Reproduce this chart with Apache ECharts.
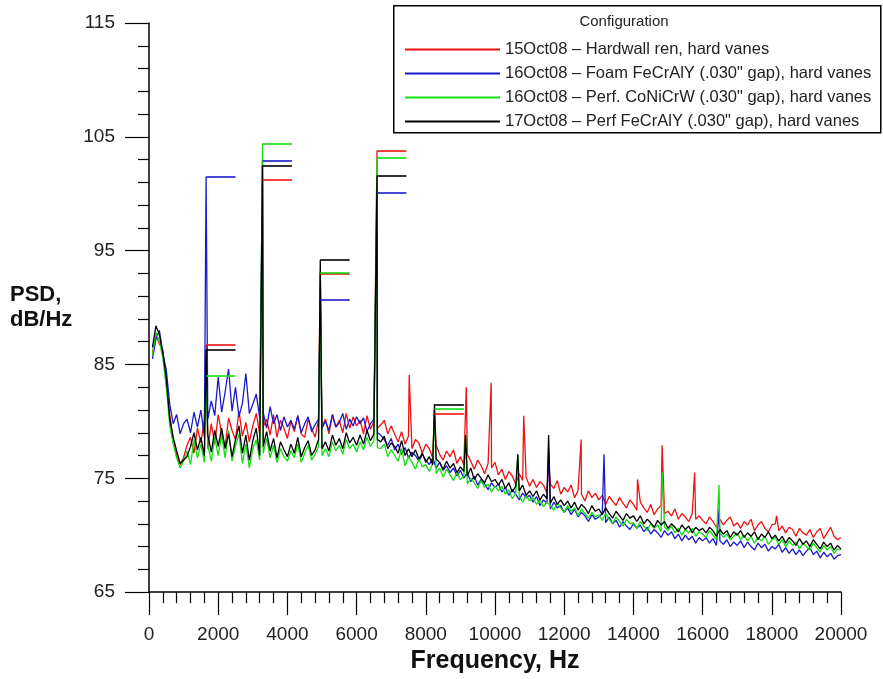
<!DOCTYPE html>
<html>
<head>
<meta charset="utf-8">
<script src="https://cdn.jsdelivr.net/npm/echarts@6/dist/echarts.min.js"></script>
<style>
  html, body { margin: 0; padding: 0; background: #fff; }
  #chart { width: 883px; height: 679px; }
</style>
</head>
<body>
<div id="chart"></div>
<script>
// ---- data (PSD, dB/Hz) ----
const seriesNames = [
  '15Oct08 \u2013 Hardwall ren, hard vanes',
  '16Oct08 \u2013 Foam FeCrAlY (.030" gap), hard vanes',
  '16Oct08 \u2013 Perf. CoNiCrW (.030" gap), hard vanes',
  '17Oct08 \u2013 Perf FeCrAlY (.030" gap), hard vanes'
];
const seriesColors = ['#ee1111', '#1a1acc', '#11dd11', '#000000'];

// frequency grid of the broadband samples (Hz)
const freqStart = 100;
const freqStep = 100;

const redBase = [
  86.0, 87.6, 86.8, 86.3, 83.2, 80.6, 78.4, 77.0, 76.2, 76.8,
  77.9, 78.6, 77.2, 79.4, 78.1, 80.2, 77.6, 79.8, 78.0, 80.6,
  78.9, 77.8, 80.3, 79.2, 78.4, 80.9, 78.7, 79.9, 78.2, 79.6,
  80.7, 78.9, 79.5, 80.2, 78.8, 80.6, 78.6, 80.1, 79.4, 78.5,
  80.0, 79.1, 80.5, 78.9, 78.6, 80.2, 79.4, 78.6, 80.1, 79.5,
  80.2, 78.9, 80.6, 79.5, 80.1, 79.0, 80.7, 79.4, 80.4, 79.6,
  80.1, 78.9, 80.5, 79.3, 80.0, 79.4, 79.7, 80.1, 78.9, 79.6,
  78.9, 78.2, 79.1, 78.0, 78.7, 77.6, 78.4, 78.1, 77.2, 78.0,
  77.6, 76.8, 77.9, 77.1, 76.6, 77.4, 76.9, 77.5, 76.3, 76.9,
  76.2, 77.1, 76.5, 75.8, 76.6, 76.1, 75.4, 76.3, 75.9, 76.4,
  75.3, 75.8, 74.9, 75.6, 75.2, 74.5, 75.4, 74.8, 75.1, 74.3,
  74.9, 74.2, 74.7, 74.4, 73.7, 74.5, 74.1, 74.8, 73.6, 74.2,
  73.8, 74.4, 73.3, 73.9, 73.6, 73.0, 73.9, 73.3, 73.7, 73.1,
  73.5, 72.7, 73.4, 73.0, 72.6, 73.3, 72.8, 72.4, 73.1, 72.7,
  72.2, 72.9, 72.4, 72.0, 72.7, 71.8, 72.3, 72.6, 71.9, 72.1,
  71.7, 72.3, 71.4, 71.9, 71.6, 71.2, 71.9, 71.4, 71.7, 71.3,
  71.0, 71.6, 71.2, 70.7, 71.4, 70.9, 71.3, 71.6, 70.8, 71.1,
  70.6, 71.2, 70.9, 71.4, 70.4, 70.9, 71.2, 70.6, 70.3, 70.9,
  71.0, 70.4, 70.8, 70.2, 70.7, 70.5, 69.9, 70.6, 70.2, 70.0,
  70.5, 69.8, 70.3, 70.6, 69.7, 70.2, 70.7, 69.9, 69.6, 69.8
];
const blueBase = [
  85.5, 87.2, 88.0, 86.0, 84.5, 81.5, 79.8, 80.6, 78.9, 79.8,
  80.2, 79.0, 80.8, 79.5, 81.0, 78.6, 80.2, 81.8, 80.5, 83.9,
  80.8, 82.6, 84.6, 80.9, 83.0, 80.4, 81.6, 84.2, 80.7, 81.5,
  82.4, 80.3, 80.8, 79.4, 81.3, 79.8, 80.6, 79.2, 80.4, 79.5,
  80.1, 79.3, 80.5, 79.0, 79.8, 80.4, 79.1, 79.7, 80.2, 79.4,
  80.0, 79.2, 80.6, 79.5, 79.9, 80.7, 79.3, 80.2, 79.6, 80.4,
  79.8, 80.3, 79.1, 79.8, 80.2, 79.0, 78.8, 78.4, 77.9, 78.5,
  77.5, 78.0, 77.1, 77.7, 76.8, 77.3, 77.0, 76.5, 77.1, 76.6,
  76.2, 76.8, 75.9, 76.4, 75.7, 76.1, 75.5, 75.9, 75.2, 75.7,
  75.0, 75.5, 74.7, 75.2, 74.4, 74.9, 74.5, 74.0, 74.6, 74.2,
  74.5, 73.8, 74.2, 73.5, 74.0, 73.6, 73.1, 73.7, 73.3, 73.5,
  72.9, 73.4, 72.6, 73.1, 72.8, 72.3, 72.9, 72.4, 72.6, 72.0,
  72.4, 71.8, 72.3, 71.6, 72.0, 71.7, 71.2, 71.8, 71.4, 71.6,
  71.9, 71.1, 71.6, 71.0, 71.3, 70.7, 71.2, 70.8, 70.5, 71.0,
  70.6, 70.9, 70.3, 70.7, 70.1, 70.5, 70.2, 69.8, 70.4, 70.0,
  70.3, 69.7, 70.1, 69.5, 70.0, 69.6, 69.9, 69.3, 69.8, 69.5,
  69.8, 69.3, 69.7, 69.1, 69.5, 69.2, 69.6, 69.0, 69.4, 69.1,
  69.5, 68.9, 69.4, 69.0, 68.7, 69.3, 68.9, 69.2, 68.6, 69.0,
  68.8, 69.2, 68.5, 68.9, 68.4, 68.8, 68.3, 68.7, 68.2, 68.6,
  68.9, 68.3, 68.6, 68.0, 68.5, 68.1, 68.4, 67.9, 68.2, 68.3
];
const greenBase = [
  85.8, 87.8, 87.0, 85.6, 83.0, 79.6, 78.0, 76.8, 75.9, 76.5,
  77.4, 76.2, 78.4, 76.8, 78.0, 76.4, 77.9, 76.5, 78.6, 77.0,
  78.8, 76.8, 79.2, 76.5, 77.8, 78.9, 76.3, 78.0, 75.9, 77.6,
  78.4, 76.6, 77.2, 78.5, 76.8, 77.9, 76.4, 77.6, 76.9, 76.5,
  77.4, 76.8, 78.0, 76.4, 77.2, 77.9, 76.6, 77.1, 77.8, 77.0,
  77.6, 76.9, 78.2, 77.4, 77.9, 77.1, 78.4, 77.6, 78.0, 77.3,
  78.2, 77.5, 78.6, 77.8, 78.3, 77.7, 77.6, 78.0, 76.9, 77.5,
  77.0, 76.5, 77.6, 76.1, 76.9, 76.4, 75.8, 76.7, 76.0, 76.2,
  75.6, 76.3, 75.4, 75.9, 75.1, 75.8, 75.3, 74.8, 75.5, 74.9,
  75.2, 74.5, 75.0, 74.6, 74.1, 74.8, 74.2, 74.5, 73.8, 74.3,
  73.9, 74.3, 73.6, 74.0, 73.2, 73.7, 73.4, 72.9, 73.5, 73.0,
  73.3, 72.7, 73.1, 72.5, 72.9, 72.6, 72.2, 72.8, 72.4, 72.0,
  72.6, 72.1, 72.4, 71.7, 72.3, 71.9, 71.5, 72.0, 71.6, 71.8,
  71.3, 71.9, 71.4, 71.0, 71.6, 71.2, 70.8, 71.4, 71.0, 71.1,
  70.6, 71.2, 70.8, 70.4, 71.0, 70.6, 70.9, 70.3, 70.7, 70.4,
  70.8, 70.2, 70.6, 70.0, 70.5, 70.2, 70.6, 69.9, 70.3, 70.1,
  69.8, 70.4, 70.0, 69.6, 70.2, 69.8, 70.1, 69.6, 69.9, 70.2,
  69.6, 70.0, 69.5, 69.9, 69.3, 69.8, 69.5, 69.9, 69.2, 69.6,
  69.8, 69.2, 69.6, 69.0, 69.5, 69.1, 69.4, 68.8, 69.3, 69.0,
  68.7, 69.3, 68.9, 68.5, 69.1, 68.7, 69.0, 68.4, 68.8, 68.7
];
const blackBase = [
  86.5, 88.4, 87.6, 86.0, 83.8, 80.2, 78.6, 77.4, 76.3, 76.6,
  76.9, 77.8, 79.0, 77.5, 78.6, 77.0, 78.8, 77.3, 79.2, 77.8,
  79.4, 77.6, 78.9, 76.9, 78.4, 79.6, 77.2, 78.8, 76.6, 78.3,
  79.4, 77.0, 77.8, 79.1, 77.4, 78.5, 76.8, 78.2, 77.5, 76.9,
  78.0, 77.2, 78.6, 76.9, 77.7, 78.3, 77.0, 77.5, 78.4, 77.6,
  78.2, 77.4, 78.8, 77.9, 78.5, 77.6, 79.0, 78.1, 78.6, 77.9,
  78.8, 78.0, 79.2, 78.3, 78.9, 78.4, 78.2, 78.7, 77.6, 78.1,
  77.8, 77.2, 78.3, 77.0, 77.6, 76.9, 77.5, 76.7, 77.2, 76.4,
  76.9, 76.2, 76.7, 76.4, 75.8, 76.5, 75.9, 76.3, 75.5, 76.0,
  75.6, 75.2, 75.9, 74.9, 75.4, 75.0, 74.6, 75.3, 74.7, 74.9,
  74.4, 74.9, 74.1, 74.6, 73.8, 74.3, 73.9, 74.4, 73.5, 73.9,
  73.4, 73.9, 73.1, 73.6, 73.2, 72.8, 73.4, 72.7, 73.1, 72.6,
  73.0, 72.4, 72.9, 72.2, 72.7, 72.4, 71.9, 72.6, 72.1, 72.3,
  71.8, 72.4, 71.9, 71.5, 72.1, 71.7, 71.3, 71.9, 71.5, 71.7,
  71.2, 71.7, 71.0, 71.4, 71.1, 70.7, 71.3, 70.9, 71.2, 70.6,
  71.0, 70.7, 70.3, 70.9, 70.5, 70.8, 70.2, 70.7, 70.4, 70.6,
  70.2, 70.7, 70.4, 69.9, 70.5, 70.1, 70.4, 69.8, 70.3, 70.0,
  70.4, 69.8, 70.2, 69.9, 70.3, 69.6, 70.1, 69.8, 70.3, 69.7,
  70.0, 69.5, 69.9, 69.3, 69.8, 69.5, 69.1, 69.7, 69.2, 69.5,
  69.0, 69.6, 69.2, 68.8, 69.4, 69.0, 69.3, 68.7, 69.1, 68.8
];

// blade-passing tone harmonics (Hz) and their peak levels per configuration
const harmonicFreqs = [1650, 3280, 4950, 6590, 8250];
const redPeaks   = [86.7, 101.2, 93.0, 103.8, 80.7];
const bluePeaks  = [101.5, 102.9, 90.7, 100.1, null];
const greenPeaks = [84.0, 104.4, 93.1, 103.2, 81.1];
const blackPeaks = [86.3, 102.5, 94.2, 101.6, 81.5];
const peakMarkSpan = 850; // Hz length of the peak-level bars

// other narrow tones [Hz, dB]
const redTones   = [[7520, 84.1], [9170, 83.0], [9890, 83.4], [10830, 80.5], [11550, 76.5],
                    [12490, 78.4], [14120, 74.9], [14830, 77.9], [15770, 75.5], [18140, 71.7]];
const blueTones  = [[11550, 77.5], [13150, 77.1], [16475, 72.3]];
const greenTones = [[9150, 78.8], [10660, 77.1], [14830, 75.5], [16475, 74.4]];
const blackTones = [[9150, 78.8], [10660, 77.1], [11550, 78.8]];

// axis ticks
const yMin = 65, yMax = 115, yStep = 10;
const xMin = 0, xMax = 20000, xStep = 2000;

// ---- build ----
function buildData(base, peaks, tones) {
  const pts = base.map((v, i) => [freqStart + i * freqStep, v]);
  peaks.forEach((p, i) => { if (p != null) pts.push([harmonicFreqs[i], p]); });
  tones.forEach(t => pts.push([t[0], t[1]]));
  pts.sort((a, b) => a[0] - b[0]);
  return pts;
}
function buildMarks(peaks) {
  const out = [];
  peaks.forEach((p, i) => {
    if (p != null) out.push([{ coord: [harmonicFreqs[i], p] }, { coord: [harmonicFreqs[i] + peakMarkSpan, p] }]);
  });
  return out;
}
const bases = [redBase, blueBase, greenBase, blackBase];
const peaksAll = [redPeaks, bluePeaks, greenPeaks, blackPeaks];
const tonesAll = [redTones, blueTones, greenTones, blackTones];

const FONT = '"Liberation Sans", Arial, Helvetica, sans-serif';

const series = seriesNames.map((name, k) => ({
  name: name,
  type: 'line',
  data: buildData(bases[k], peaksAll[k], tonesAll[k]),
  showSymbol: false,
  symbol: 'none',
  animation: false,
  lineStyle: { color: seriesColors[k], width: 1.3 },
  itemStyle: { color: seriesColors[k] },
  markLine: {
    silent: true,
    symbol: 'none',
    animation: false,
    label: { show: false },
    lineStyle: { color: seriesColors[k], width: 1.6, type: 'solid' },
    emphasis: { disabled: true },
    data: buildMarks(peaksAll[k])
  }
}));

const chart = echarts.init(document.getElementById('chart'), null, { renderer: 'canvas' });
chart.setOption({
  animation: false,
  backgroundColor: '#ffffff',
  grid: { left: 149, right: 42, top: 23, bottom: 82, containLabel: false },
  xAxis: {
    type: 'value',
    min: xMin, max: xMax, interval: xStep,
    name: 'Frequency, Hz',
    nameLocation: 'middle',
    nameGap: 48,
    nameTextStyle: { fontFamily: FONT, fontSize: 25, fontWeight: 'bold', color: '#111' },
    axisLine: { show: true, lineStyle: { color: '#000', width: 1.5 } },
    axisTick: { show: true, length: 23, lineStyle: { color: '#000', width: 1.2 } },
    minorTick: { show: true, splitNumber: 5, length: 11, lineStyle: { color: '#000', width: 1.2 } },
    axisLabel: { margin: 33, fontFamily: FONT, fontSize: 19, color: '#222', formatter: v => String(v) },
    splitLine: { show: false }
  },
  yAxis: {
    type: 'value',
    min: yMin, max: yMax, interval: yStep,
    axisLine: { show: true, lineStyle: { color: '#000', width: 1.5 } },
    axisTick: { show: true, length: 24, lineStyle: { color: '#000', width: 1.2 } },
    minorTick: { show: true, splitNumber: 5, length: 11, lineStyle: { color: '#000', width: 1.2 } },
    axisLabel: { margin: 34, fontFamily: FONT, fontSize: 19, color: '#222', formatter: v => String(v) },
    splitLine: { show: false }
  },
  legend: {
    orient: 'vertical',
    left: 400,
    top: 36,
    itemWidth: 95,
    itemHeight: 2,
    itemGap: 7,
    icon: 'rect',
    selectedMode: false,
    textStyle: { fontFamily: FONT, fontSize: 16.5, color: '#222', lineHeight: 17 },
    data: seriesNames.map((n, k) => ({ name: n, itemStyle: { color: seriesColors[k] } }))
  },
  graphic: [
    {
      type: 'rect', left: 393, top: 5, z: 0,
      shape: { width: 487, height: 127 },
      style: { fill: '#fff', stroke: '#000', lineWidth: 1.5 }
    },
    {
      type: 'text', x: 624, y: 22, z: 10,
      style: { text: 'Configuration', font: '15px ' + FONT, fill: '#222', align: 'center', verticalAlign: 'middle' }
    },
    {
      type: 'text', left: 10, top: 282, z: 10,
      style: { text: 'PSD,\ndB/Hz', font: 'bold 22px ' + FONT, fill: '#111', lineHeight: 25 }
    }
  ],
  series: series
});
</script>
</body>
</html>
